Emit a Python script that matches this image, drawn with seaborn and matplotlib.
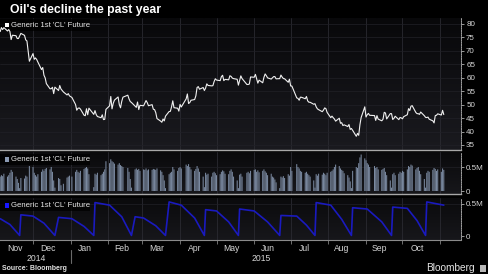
import numpy as np
import pandas as pd
import matplotlib
matplotlib.use("Agg")
import matplotlib.pyplot as plt
import matplotlib.dates as mdates
from matplotlib.patches import Rectangle
from matplotlib.lines import Line2D
from matplotlib.colors import LinearSegmentedColormap
from matplotlib.transforms import blended_transform_factory
import seaborn as sns

# ---------------- data ----------------
holidays = ["2014-11-27", "2014-12-25", "2015-01-01", "2015-01-19", "2015-02-16",
            "2015-04-03", "2015-05-25", "2015-07-03", "2015-09-07"]
first_day, last_day = "2014-11-04", "2015-11-04"

price = [
    # Nov 2014
    77.19, 78.68, 77.91, 78.65, 77.40, 77.94, 77.18, 74.21, 75.82, 75.64, 74.61, 74.58,
    75.58, 76.51, 75.78, 74.09, 73.69, 66.15,
    # Dec 2014
    69.00, 66.88, 67.38, 66.81, 65.84, 63.05, 63.82, 60.94, 59.95, 57.81, 55.91, 55.93,
    56.47, 54.11, 56.52, 55.26, 57.12, 55.84, 54.73, 53.61, 54.12, 53.27,
    # Jan 2015
    52.69, 50.04, 47.93, 48.65, 48.79, 48.36, 46.07, 45.89, 48.48, 46.25, 48.69, 46.39,
    47.78, 46.31, 45.59, 45.15, 46.23, 44.45, 44.53, 48.24,
    # Feb
    49.57, 53.05, 48.45, 50.48, 51.69, 52.86, 50.02, 48.84, 51.21, 52.78, 53.53, 52.14,
    51.16, 50.81, 49.45, 49.00, 50.99, 48.17, 49.76,
    # Mar
    49.59, 50.52, 51.53, 50.76, 49.61, 50.00, 48.29, 48.17, 47.05, 44.84, 43.88, 43.46,
    44.66, 43.96, 45.72, 47.45, 47.51, 49.21, 51.43, 48.87, 48.68, 47.60,
    # Apr
    50.09, 49.14, 52.14, 53.98, 50.42, 50.79, 51.64, 51.91, 53.29, 56.39, 56.71, 55.74,
    56.38, 55.26, 56.16, 57.74, 57.15, 56.99, 57.06, 58.58, 59.63,
    # May
    59.15, 58.93, 60.40, 60.93, 58.94, 59.39, 59.25, 60.75, 60.50, 59.88, 59.69, 59.43,
    57.26, 58.98, 60.72, 59.72, 57.51, 57.51, 57.68, 60.30,
    # Jun
    60.20, 61.26, 59.64, 58.00, 59.13, 58.14, 60.14, 61.43, 60.77, 59.96, 59.52, 59.97,
    60.43, 60.45, 59.61, 59.68, 61.01, 60.27, 59.70, 59.63, 58.33, 59.47,
    # Jul
    56.96, 56.93, 52.53, 52.33, 51.65, 52.78, 52.74, 52.20, 53.04, 51.41, 50.91, 50.89,
    50.15, 50.36, 49.19, 48.45, 48.14, 47.39, 47.98, 48.79, 48.52, 47.12,
    # Aug
    45.17, 45.74, 45.15, 44.66, 43.87, 44.96, 43.08, 43.30, 42.23, 42.50, 41.87, 42.62,
    40.80, 41.14, 40.45, 38.24, 39.31, 38.60, 42.56, 45.22, 49.20,
    # Sep
    45.41, 46.25, 46.75, 46.05, 45.94, 44.15, 45.92, 44.63, 44.00, 44.59, 47.15, 46.90,
    44.68, 46.68, 46.66, 44.48, 44.91, 45.70, 44.43, 45.23, 45.09,
    # Oct
    44.74, 45.54, 46.26, 48.53, 47.81, 49.43, 49.63, 47.10, 46.66, 46.64, 46.38, 47.26,
    45.89, 45.29, 45.20, 45.38, 44.60, 43.98, 43.20, 45.94, 46.06, 46.59,
    # Nov 2015
    46.14, 47.90, 46.32,
]

volume_m = [
    0.30, 0.33, 0.31, 0.36, 0.30, 0.33, 0.38, 0.44, 0.40, 0.30, 0.25, 0.17, 0.06,
    0.27, 0.26, 0.32, 0.30, 0.52, 0.50, 0.38, 0.33, 0.30, 0.35, 0.40, 0.45, 0.42, 0.46,
    0.48, 0.45, 0.50, 0.40, 0.22, 0.07,
    0.27, 0.25, 0.12, 0.15, 0.28, 0.30, 0.32, 0.30, 0.40, 0.44, 0.40, 0.38, 0.42, 0.46,
    0.48, 0.50, 0.47, 0.35, 0.08,
    0.36, 0.34, 0.38, 0.33, 0.36, 0.40, 0.45, 0.62, 0.58, 0.66, 0.62, 0.60, 0.57, 0.55,
    0.58, 0.54, 0.52, 0.50, 0.48, 0.40, 0.25, 0.07,
    0.45, 0.47, 0.44, 0.46, 0.42, 0.45, 0.44, 0.47, 0.43, 0.45, 0.44, 0.46, 0.45, 0.44,
    0.47, 0.43, 0.40, 0.33, 0.22, 0.06,
    0.35, 0.38, 0.40, 0.50, 0.45, 0.42, 0.48, 0.50, 0.47, 0.55, 0.52, 0.56, 0.50, 0.45,
    0.42, 0.46, 0.52, 0.47, 0.40, 0.30, 0.08,
    0.38, 0.34, 0.36, 0.30, 0.38, 0.40, 0.37, 0.33, 0.35, 0.40, 0.43, 0.41, 0.36, 0.35,
    0.42, 0.45, 0.40, 0.30, 0.22, 0.06,
    0.34, 0.36, 0.30, 0.38, 0.40, 0.37, 0.42, 0.44, 0.45, 0.40, 0.43, 0.39, 0.42, 0.45,
    0.41, 0.38, 0.33, 0.36, 0.30, 0.28, 0.24, 0.18, 0.06,
    0.30, 0.28, 0.31, 0.27, 0.35, 0.32, 0.50, 0.42, 0.56, 0.50, 0.47, 0.42, 0.40, 0.38,
    0.40, 0.36, 0.33, 0.30, 0.22, 0.07,
    0.35, 0.32, 0.36, 0.34, 0.38, 0.36, 0.33, 0.38, 0.40, 0.42, 0.45, 0.50, 0.55, 0.52,
    0.47, 0.44, 0.42, 0.37, 0.33, 0.28, 0.20, 0.06,
    0.42, 0.50, 0.48, 0.58, 0.70, 0.76, 0.68, 0.64, 0.58, 0.55, 0.50, 0.52, 0.48, 0.50,
    0.45, 0.44, 0.46, 0.48, 0.40, 0.33, 0.22, 0.07,
    0.35, 0.38, 0.33, 0.36, 0.40, 0.38, 0.42, 0.40, 0.45, 0.52, 0.50, 0.55, 0.53, 0.45,
    0.48, 0.50, 0.42, 0.35, 0.25, 0.07,
    0.38, 0.42, 0.40, 0.44, 0.48, 0.46, 0.42, 0.45, 0.40, 0.47, 0.44,
]

oi_dates = [
    "2014-11-04", "2014-11-12", "2014-11-20",
    "2014-11-21", "2014-12-01", "2014-12-10", "2014-12-19",
    "2014-12-22", "2015-01-02", "2015-01-12", "2015-01-20",
    "2015-01-21", "2015-02-02", "2015-02-12", "2015-02-20",
    "2015-02-23", "2015-03-02", "2015-03-12", "2015-03-20",
    "2015-03-23", "2015-04-02", "2015-04-13", "2015-04-21",
    "2015-04-22", "2015-05-01", "2015-05-11", "2015-05-19",
    "2015-05-20", "2015-06-01", "2015-06-12", "2015-06-22",
    "2015-06-23", "2015-07-06", "2015-07-14", "2015-07-21",
    "2015-07-22", "2015-08-03", "2015-08-12", "2015-08-20",
    "2015-08-21", "2015-09-02", "2015-09-14", "2015-09-22",
    "2015-09-23", "2015-10-05", "2015-10-13", "2015-10-20",
    "2015-10-21", "2015-11-04",
]
oi_m = [
    0.27, 0.18, 0.01,
    0.33, 0.31, 0.20, 0.01,
    0.29, 0.27, 0.15, 0.01,
    0.52, 0.48, 0.30, 0.01,
    0.30, 0.28, 0.16, 0.01,
    0.53, 0.48, 0.28, 0.01,
    0.41, 0.39, 0.22, 0.01,
    0.42, 0.39, 0.22, 0.01,
    0.32, 0.31, 0.17, 0.01,
    0.52, 0.48, 0.26, 0.01,
    0.44, 0.42, 0.22, 0.01,
    0.45, 0.43, 0.24, 0.01,
    0.53, 0.48,
]

price_ticks = [35, 40, 45, 50, 55, 60, 65, 70, 75, 80]
m_ticks = [0, 0.5]
m_tick_labels = ["0", "0.5M"]
month_labels = ["Nov", "Dec", "Jan", "Feb", "Mar", "Apr", "May", "Jun", "Jul", "Aug", "Sep", "Oct"]
month_label_dates = ["2014-11-16", "2014-12-13", "2015-01-13", "2015-02-12", "2015-03-13",
                     "2015-04-13", "2015-05-13", "2015-06-12", "2015-07-12", "2015-08-12",
                     "2015-09-12", "2015-10-13"]
year_labels = ["2014", "2015"]
year_label_dates = ["2014-12-04", "2015-06-07"]
series_name = "Generic 1st 'CL' Future"

trading_days = pd.bdate_range(first_day, last_day, freq="C", holidays=holidays)
df = pd.DataFrame({"date": trading_days, "price": price, "volume": volume_m})
oi_df = pd.DataFrame({"date": pd.to_datetime(oi_dates), "oi": oi_m})

# ---------------- style ----------------
sns.set_theme(style="dark")
plt.rcParams["font.family"] = ["Liberation Sans", "DejaVu Sans"]

W, H = 488, 274
fig = plt.figure(figsize=(W / 100, H / 100), dpi=100, facecolor="black")


def fbox(left, top, right, bottom):
    return [left / W, 1 - bottom / H, (right - left) / W, (bottom - top) / H]


ax1 = fig.add_axes(fbox(0, 18, 461, 150))
ax2 = fig.add_axes(fbox(0, 152, 461, 194))
ax3 = fig.add_axes(fbox(0, 198, 461, 240))

x_left = pd.Timestamp("2014-11-03 20:00")
x_right = pd.Timestamp("2015-11-18 04:00")

LABEL_C = "#d6d6d6"

sns.lineplot(data=df, x="date", y="price", ax=ax1, color="#f0f0f0", linewidth=0.8,
             estimator=None, zorder=4)
ax2.bar(df["date"], df["volume"], width=0.85, color="#7a89a0", linewidth=0, zorder=3,
        snap=False)
sns.lineplot(data=oi_df, x="date", y="oi", ax=ax3, color="#1a1abf", linewidth=1.2,
             estimator=None, zorder=4)

month_starts = pd.date_range("2014-12-01", "2015-11-01", freq="MS")

panels = [
    (ax1, (33.14, 82.23), "#08080a", "#1a1a1f"),
    (ax2, (-0.0625, 0.8125), "#0a0a0c", "#17171b"),
    (ax3, (-0.0606, 0.5909), "#0a0a0c", "#17171b"),
]
for ax, ylim, c_top, c_bot in panels:
    cmap = LinearSegmentedColormap.from_list("bg", [c_top, c_bot])
    grad = np.linspace(0, 1, 128).reshape(-1, 1)
    ax.imshow(grad, extent=[0, 1, 0, 1], transform=ax.transAxes, aspect="auto",
              cmap=cmap, zorder=0, interpolation="bilinear")
    ax.set_xlim(x_left, x_right)
    ax.set_ylim(*ylim)
    ax.set_xlabel("")
    ax.set_ylabel("")
    ax.grid(False)
    for d in month_starts:
        ax.axvline(d, color="#2a2a31", linewidth=0.6, zorder=1)
    ax.yaxis.tick_right()
    ax.tick_params(axis="y", which="both", right=True, left=False, length=2.2, width=0.6,
                   color="#b0b0b0", labelcolor=LABEL_C, labelsize=5.8, pad=1.5)
    for s in ["top", "left", "bottom"]:
        ax.spines[s].set_visible(False)
    ax.spines["right"].set_visible(True)
    ax.spines["right"].set_color("#a0a0a0")
    ax.spines["right"].set_linewidth(0.7)
    ax.spines["right"].set_linestyle((0, (1.2, 1.2)))

ax1.set_yticks(price_ticks)
ax1.set_yticklabels([str(t) for t in price_ticks])
for t in price_ticks:
    ax1.axhline(t, color="#212127", linewidth=0.5, zorder=1)
ax2.set_yticks(m_ticks)
ax2.set_yticklabels(m_tick_labels)
ax3.set_yticks(m_ticks)
ax3.set_yticklabels(m_tick_labels)
ax2.axhline(0.5, color="#212127", linewidth=0.5, zorder=1)
ax3.axhline(0.5, color="#212127", linewidth=0.5, zorder=1)

for ax in (ax1, ax2):
    ax.tick_params(axis="x", which="both", bottom=False, labelbottom=False)

ax1.spines["bottom"].set_visible(True)
ax1.spines["bottom"].set_color("#a8a8a8")
ax1.spines["bottom"].set_linewidth(1.0)
ax2.spines["bottom"].set_visible(True)
ax2.spines["bottom"].set_color("#a8a8a8")
ax2.spines["bottom"].set_linewidth(1.0)
ax3.spines["bottom"].set_visible(True)
ax3.spines["bottom"].set_color("#8a8a8a")
ax3.spines["bottom"].set_linewidth(0.8)

# x axis on bottom panel
ax3.xaxis.set_major_locator(matplotlib.ticker.FixedLocator(mdates.date2num(month_starts)))
ax3.xaxis.set_major_formatter(matplotlib.ticker.NullFormatter())
ax3.xaxis.set_minor_locator(matplotlib.ticker.FixedLocator(
    mdates.date2num(pd.to_datetime(month_label_dates))))
ax3.xaxis.set_minor_formatter(matplotlib.ticker.FixedFormatter(month_labels))
ax3.tick_params(axis="x", which="major", bottom=True, length=3, width=0.6,
                color="#808080", direction="out")
ax3.tick_params(axis="x", which="minor", bottom=True, length=0, labelsize=6.2,
                labelcolor=LABEL_C, pad=3)

# year labels and separator
tr = blended_transform_factory(ax3.transData, fig.transFigure)
for lab, d in zip(year_labels, year_label_dates):
    ax3.text(pd.Timestamp(d), 1 - 258.5 / H, lab, transform=tr, ha="center", va="center",
             fontsize=6.2, color=LABEL_C, clip_on=False)
sep_x = mdates.date2num(pd.Timestamp("2015-01-01"))
fig.add_artist(Line2D([sep_x, sep_x], [1 - 250 / H, 1 - 263 / H], transform=tr,
                      color="#6a6a6a", linewidth=0.8))

# legend boxes
for ax, top, bottom, sq_color in [(ax1, 19, 31, "#ffffff"), (ax2, 154, 165, "#8a99b2"),
                                  (ax3, 200, 211, "#1818ff")]:
    ax.add_patch(Rectangle((0, 1 - bottom / H), 90 / W, (bottom - top) / H,
                           transform=fig.transFigure, facecolor="#000000", alpha=0.75,
                           edgecolor="none", zorder=2, clip_on=False))
    yc = (top + bottom) / 2
    ax.add_patch(Rectangle((5 / W, 1 - (yc + 2.2) / H), 4.2 / W, 4.4 / H,
                           transform=fig.transFigure, facecolor=sq_color,
                           edgecolor="none", zorder=6, clip_on=False))
    ax.text(11 / W, 1 - (yc + 0.2) / H, series_name, transform=fig.transFigure,
            ha="left", va="center", fontsize=5.6, color="#e8e8e8", zorder=6)

# title and footer
fig.text(10 / W, 1 - 12.5 / H, "Oil's decline the past year", ha="left", va="baseline",
         fontsize=8.8, fontweight="bold", color="white")
fig.text(2 / W, 1 - 268 / H, "Source: Bloomberg", ha="left", va="center",
         fontsize=5.0, fontweight="bold", color="#e0e0e0")
fig.text(475 / W, 1 - 268 / H, "Bloomberg", ha="right", va="center",
         fontsize=7.3, color="#e6e6e6")
fig.add_artist(Rectangle((479.5 / W, 1 - 271.5 / H), 6.5 / W, 7 / H,
                         transform=fig.transFigure, facecolor="#b8b8b8", edgecolor="none"))

fig.savefig("out.png", dpi=100, facecolor="black")
